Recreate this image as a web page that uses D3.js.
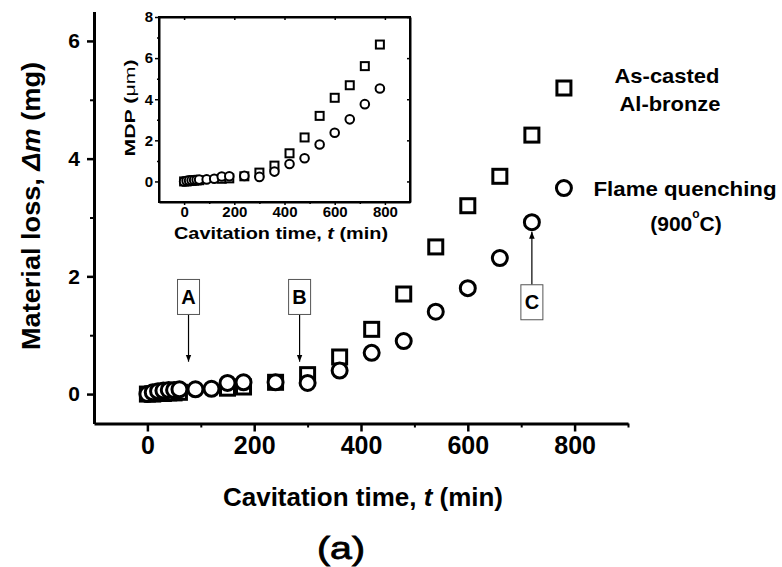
<!DOCTYPE html>
<html><head><meta charset="utf-8">
<script src="https://cdn.jsdelivr.net/npm/d3@7"></script>
<style>
body{margin:0;background:#fff;}
svg{display:block;font-family:"Liberation Sans",Arial,sans-serif;}
</style></head><body>
<svg id="chart" width="782" height="567"></svg>
<script>
// ---- data ----
const squareTimes = [0, 10, 20, 30, 40, 50, 60, 150, 180, 240, 300, 360, 420, 480, 540, 600, 660, 720, 780];
const squareLoss  = [0, 0, 0.01, 0.01, 0.02, 0.02, 0.03, 0.1, 0.12, 0.2, 0.33, 0.63, 1.1, 1.7, 2.5, 3.2, 3.7, 4.4, 5.2];
const squareMDP   = [0, 0, 0.02, 0.03, 0.04, 0.05, 0.06, 0.13, 0.15, 0.25, 0.43, 0.77, 1.37, 2.14, 3.19, 4.07, 4.68, 5.61, 6.66];
const circleTimes = [0, 10, 20, 30, 40, 50, 60, 90, 120, 150, 180, 240, 300, 360, 420, 480, 540, 600, 660, 720, 780];
const circleLoss  = [0, 0.03, 0.05, 0.06, 0.07, 0.07, 0.08, 0.08, 0.09, 0.19, 0.2, 0.2, 0.19, 0.4, 0.7, 0.9, 1.4, 1.8, 2.31, 2.92, 3.5];
const circleMDP   = [0, 0.03, 0.05, 0.06, 0.07, 0.08, 0.09, 0.1, 0.13, 0.24, 0.25, 0.27, 0.22, 0.48, 0.85, 1.13, 1.8, 2.37, 3.02, 3.76, 4.52];
const mainXTicks = [0, 200, 400, 600, 800];
const mainXMinor = [100, 300, 500, 700, 900];
const mainYTicks = [0, 2, 4, 6];
const mainYMinor = [1, 3, 5];
const insetXTicks = [0, 200, 400, 600, 800];
const insetXMinor = [100, 300, 500, 700];
const insetYTicks = [0, 2, 4, 6, 8];
const insetYMinor = [1, 3, 5, 7];
const annotLabels = ["A", "B", "C"];
const annotTimes  = [77, 285, 720];
const annotTip    = [0.55, 0.55, 2.76];
const annotBox    = [1.65, 1.65, 1.56];

const svg = d3.select("#chart");
const fmt = d3.format("d");
const x = d3.scaleLinear().domain([-100, 900]).range([94, 628]);
const y = d3.scaleLinear().domain([-0.5, 6.5]).range([423.5, 11.5]);
const xi = d3.scaleLinear().domain([-100, 900]).range([159, 410]);
const yi = d3.scaleLinear().domain([-1, 8]).range([202, 17]);

function styleAxis(g, w, tw) {
  g.select(".domain").attr("stroke", "#000").attr("stroke-width", w);
  g.selectAll(".tick line").attr("stroke", "#000").attr("stroke-width", tw);
  g.selectAll(".tick text").attr("fill", "#000").attr("font-weight", "bold")
    .attr("font-family", "'Liberation Sans',Arial,sans-serif");
}

// ---- main axes ----
const gx = svg.append("g").attr("transform", `translate(0,${y(-0.5)})`)
  .call(d3.axisBottom(x).tickValues(mainXTicks).tickFormat(fmt).tickSize(8).tickSizeOuter(0).tickPadding(5));
styleAxis(gx, 3, 2.5);
gx.selectAll(".tick text").attr("font-size", 25);
const gxm = svg.append("g").attr("transform", `translate(0,${y(-0.5)})`)
  .call(d3.axisBottom(x).tickValues(mainXMinor).tickSize(4).tickFormat(""));
gxm.select(".domain").remove();
styleAxis(gxm, 0, 2);

const gy = svg.append("g").attr("transform", `translate(${x(-100)},0)`)
  .call(d3.axisLeft(y).tickValues(mainYTicks).tickFormat(fmt).tickSize(7).tickSizeOuter(0).tickPadding(7));
styleAxis(gy, 3, 2.5);
gy.selectAll(".tick text").attr("font-size", 21);
const gym = svg.append("g").attr("transform", `translate(${x(-100)},0)`)
  .call(d3.axisLeft(y).tickValues(mainYMinor).tickSize(4).tickFormat(""));
gym.select(".domain").remove();
styleAxis(gym, 0, 2);

// axis titles
const yt = svg.append("text").attr("transform", "translate(31,206) rotate(-90)")
  .attr("text-anchor", "middle").attr("dominant-baseline", "central")
  .attr("font-size", 26).attr("font-weight", "bold")
  .attr("textLength", 288).attr("lengthAdjust", "spacingAndGlyphs");
yt.append("tspan").text("Material loss, ");
yt.append("tspan").attr("font-style", "italic").text("Δm");
yt.append("tspan").text(" (mg)");

const xt = svg.append("text").attr("x", 363).attr("y", 497)
  .attr("text-anchor", "middle").attr("dominant-baseline", "central")
  .attr("font-size", 26).attr("font-weight", "bold")
  .attr("textLength", 280).attr("lengthAdjust", "spacingAndGlyphs");
xt.append("tspan").text("Cavitation time, ");
xt.append("tspan").attr("font-style", "italic").text("t");
xt.append("tspan").text(" (min)");

svg.append("text").attr("x", 341).attr("y", 548)
  .attr("text-anchor", "middle").attr("dominant-baseline", "central")
  .attr("font-size", 32).attr("stroke", "#000").attr("stroke-width", 0.8)
  .attr("textLength", 48).attr("lengthAdjust", "spacingAndGlyphs")
  .text("(a)");

// ---- main markers ----
const sqData = squareTimes.map((t, i) => ({t, v: squareLoss[i]}));
const ciData = circleTimes.map((t, i) => ({t, v: circleLoss[i]}));
const S = 14;
svg.append("g").selectAll("rect").data(sqData).join("rect")
  .attr("x", d => x(d.t) - S / 2).attr("y", d => y(d.v) - S / 2)
  .attr("width", S).attr("height", S)
  .attr("fill", "#fff").attr("stroke", "#000").attr("stroke-width", 3);
svg.append("g").selectAll("circle").data(ciData).join("circle")
  .attr("cx", d => x(d.t)).attr("cy", d => y(d.v)).attr("r", 7.5)
  .attr("fill", "#fff").attr("stroke", "#000").attr("stroke-width", 3);

// ---- annotations ----
const defs = svg.append("defs");
defs.append("marker").attr("id", "ah").attr("viewBox", "0 0 10 10")
  .attr("refX", 10).attr("refY", 5).attr("markerWidth", 7).attr("markerHeight", 7)
  .attr("orient", "auto-start-reverse").attr("markerUnits", "userSpaceOnUse")
  .append("path").attr("d", "M0,1 L10,5 L0,9 Z").attr("fill", "#000");
annotLabels.forEach((lab, i) => {
  const cx = x(annotTimes[i]), cy = y(annotBox[i]);
  const bw = 22, bh = 35;
  const tipY = y(annotTip[i]);
  const startY = tipY > cy ? cy + bh / 2 : cy - bh / 2;
  svg.append("line").attr("x1", cx).attr("x2", cx).attr("y1", startY).attr("y2", tipY)
    .attr("stroke", "#000").attr("stroke-width", 1.2).attr("marker-end", "url(#ah)");
  svg.append("rect").attr("x", cx - bw / 2).attr("y", cy - bh / 2).attr("width", bw).attr("height", bh)
    .attr("fill", "#fff").attr("stroke", "#555").attr("stroke-width", 1);
  svg.append("text").attr("x", cx).attr("y", cy).attr("text-anchor", "middle")
    .attr("dominant-baseline", "central").attr("font-size", 20).attr("font-weight", "bold").text(lab);
});

// ---- legend text ----
const legendText = [
  {s: "As-casted", x: 667, y: 75, w: 105},
  {s: "Al-bronze", x: 670, y: 103, w: 101},
  {s: "Flame quenching", x: 685, y: 188, w: 183}
];
legendText.forEach(d => {
  svg.append("text").attr("x", d.x).attr("y", d.y).attr("text-anchor", "middle")
    .attr("dominant-baseline", "central").attr("font-size", 21).attr("font-weight", "bold")
    .attr("textLength", d.w).attr("lengthAdjust", "spacingAndGlyphs").text(d.s);
});
const deg = svg.append("text").attr("x", 686).attr("y", 223).attr("text-anchor", "middle")
  .attr("dominant-baseline", "central").attr("font-size", 21).attr("font-weight", "bold");
deg.append("tspan").text("(900");
deg.append("tspan").attr("font-size", 12).attr("dy", -9).text("o");
deg.append("tspan").attr("dy", 9).text("C)");

// ---- inset ----
const inset = svg.append("g");
inset.append("rect").attr("x", xi(-100)).attr("y", yi(8)).attr("width", xi(900) - xi(-100))
  .attr("height", yi(-1) - yi(8)).attr("fill", "#fff").attr("stroke", "#000").attr("stroke-width", 2);
const ib = inset.append("g").attr("transform", `translate(0,${yi(-1)})`)
  .call(d3.axisBottom(xi).tickValues(insetXTicks).tickFormat(fmt).tickSize(3).tickSizeOuter(0).tickPadding(1));
styleAxis(ib, 2, 1.5); ib.selectAll(".tick text").attr("font-size", 15);
const ibm = inset.append("g").attr("transform", `translate(0,${yi(-1)})`)
  .call(d3.axisBottom(xi).tickValues(insetXMinor).tickSize(2).tickFormat(""));
ibm.select(".domain").remove(); styleAxis(ibm, 0, 1.5);
const il = inset.append("g").attr("transform", `translate(${xi(-100)},0)`)
  .call(d3.axisLeft(yi).tickValues(insetYTicks).tickFormat(fmt).tickSize(4).tickSizeOuter(0).tickPadding(2));
styleAxis(il, 2, 1.5); il.selectAll(".tick text").attr("font-size", 15);
const ilm = inset.append("g").attr("transform", `translate(${xi(-100)},0)`)
  .call(d3.axisLeft(yi).tickValues(insetYMinor).tickSize(2).tickFormat(""));
ilm.select(".domain").remove(); styleAxis(ilm, 0, 1.5);
const it = inset.append("g").attr("transform", `translate(0,${yi(8)})`)
  .call(d3.axisTop(xi).tickValues(insetXTicks).tickSize(-3).tickSizeOuter(0).tickFormat(""));
styleAxis(it, 2, 1.5);
const ir = inset.append("g").attr("transform", `translate(${xi(900)},0)`)
  .call(d3.axisRight(yi).tickValues(insetYTicks).tickSize(-3).tickSizeOuter(0).tickFormat(""));
styleAxis(ir, 2, 1.5);

const mdp = inset.append("text").attr("transform", "translate(129,108) rotate(-90)")
  .attr("text-anchor", "middle").attr("dominant-baseline", "central")
  .attr("font-size", 15).attr("font-weight", "bold")
  .attr("textLength", 97).attr("lengthAdjust", "spacingAndGlyphs");
mdp.append("tspan").text("MDP (");
mdp.append("tspan").attr("font-weight", "normal").text("μm");
mdp.append("tspan").text(")");
const itx = inset.append("text").attr("x", 281).attr("y", 233)
  .attr("text-anchor", "middle").attr("dominant-baseline", "central")
  .attr("font-size", 16).attr("font-weight", "bold")
  .attr("textLength", 214).attr("lengthAdjust", "spacingAndGlyphs");
itx.append("tspan").text("Cavitation time, ");
itx.append("tspan").attr("font-style", "italic").text("t");
itx.append("tspan").text(" (min)");

const sqI = squareTimes.map((t, i) => ({t, v: squareMDP[i]}));
const ciI = circleTimes.map((t, i) => ({t, v: circleMDP[i]}));
const Si = 8;
inset.append("g").selectAll("rect").data(sqI).join("rect")
  .attr("x", d => xi(d.t) - Si / 2).attr("y", d => yi(d.v) - Si / 2)
  .attr("width", Si).attr("height", Si)
  .attr("fill", "#fff").attr("stroke", "#000").attr("stroke-width", 2);
inset.append("g").selectAll("circle").data(ciI).join("circle")
  .attr("cx", d => xi(d.t)).attr("cy", d => yi(d.v)).attr("r", 4.3)
  .attr("fill", "#fff").attr("stroke", "#000").attr("stroke-width", 2);
</script>
</body></html>
